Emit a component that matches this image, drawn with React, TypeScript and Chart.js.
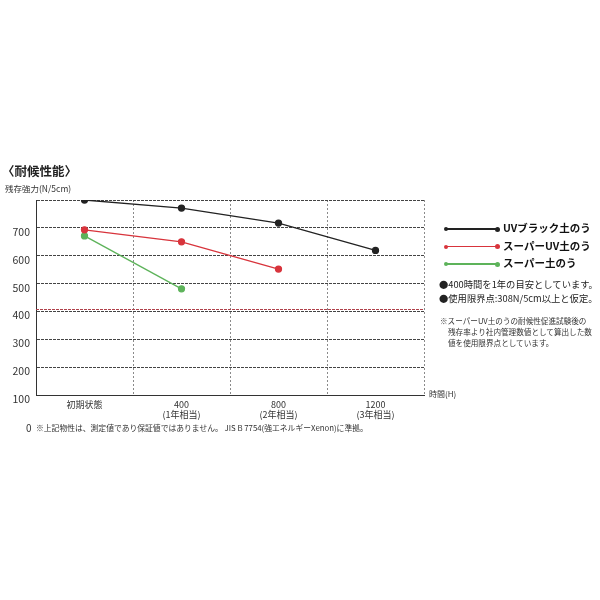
import React, { useEffect, useRef } from "react";
import { Chart, registerables } from "chart.js";

Chart.register(...registerables);

const categories: string[][] = [["初期状態"], ["400", "(1年相当)"], ["800", "(2年相当)"], ["1200", "(3年相当)"]];
const uvBlack: (number | null)[] = [800, 771, 717, 619];
const superUV: (number | null)[] = [693, 650, 552, null];
const superPlain: (number | null)[] = [671, 481, null, null];
const limitValue = 407;
const yMin = 100;
const yMax = 800;

const legendItems = [
  { label: "UVブラック土のう", color: "#222222" },
  { label: "スーパーUV土のう", color: "#d8343c" },
  { label: "スーパー土のう", color: "#5db35a" },
];

const FONT = "'Noto Sans CJK JP', 'Noto Sans', sans-serif";

const limitLine = {
  id: "limitLine",
  beforeDatasetsDraw(chart: any) {
    const { ctx, chartArea, scales } = chart;
    const y = Math.round(scales.y.getPixelForValue(limitValue)) + 0.5;
    ctx.save();
    ctx.strokeStyle = "#b0404a";
    ctx.lineWidth = 1;
    ctx.setLineDash([3, 1]);
    ctx.beginPath();
    ctx.moveTo(chartArea.left, y);
    ctx.lineTo(chartArea.right, y);
    ctx.stroke();
    ctx.restore();
  },
};

export default function App() {
  const ref = useRef<HTMLCanvasElement | null>(null);
  useEffect(() => {
    if (!ref.current) return;
    const ds = (label: string, data: (number | null)[], color: string) => ({
      label,
      data,
      borderColor: color,
      backgroundColor: color,
      pointBackgroundColor: color,
      pointBorderColor: color,
      pointRadius: 3,
      borderWidth: 1.3,
      tension: 0,
      spanGaps: false,
    });
    const chart = new Chart(ref.current, {
      type: "line",
      data: {
        labels: categories,
        datasets: [
          ds(legendItems[0].label, uvBlack, legendItems[0].color),
          ds(legendItems[1].label, superUV, legendItems[1].color),
          ds(legendItems[2].label, superPlain, legendItems[2].color),
        ],
      },
      options: {
        animation: false,
        responsive: false,
        maintainAspectRatio: false,
        layout: { padding: { left: 0, top: 200, right: 176, bottom: 0 } },
        plugins: { legend: { display: false }, tooltip: { enabled: false } },
        scales: {
          x: {
            type: "category",
            offset: true,
            grid: { offset: true, color: "#8a8a8a", drawTicks: false, lineWidth: 1 },
            border: { display: true, color: "#333", width: 1, dash: [2, 2] },
            ticks: {
              font: { family: FONT, size: 9, lineHeight: 1.15 },
              color: "#333",
              padding: 4,
              maxRotation: 0,
              autoSkip: false,
            },
            afterFit: (s: any) => {
              s.height = 205;
            },
          },
          y: {
            min: yMin,
            max: yMax,
            grid: { color: "#444", drawTicks: false, lineWidth: 1 },
            border: { display: true, color: "#333", width: 1, dash: [3, 1] },
            ticks: {
              stepSize: 100,
              font: { family: FONT, size: 10.5 },
              color: "#333",
              padding: 6,
              labelOffset: 4,
              callback: (v: any) => (v === 800 ? "" : String(v)),
            },
            afterFit: (s: any) => {
              s.width = 36;
            },
          },
        },
      },
      plugins: [limitLine],
    });
    return () => chart.destroy();
  }, []);

  const abs = (x: number, y: number, extra: React.CSSProperties = {}): React.CSSProperties => ({
    position: "absolute",
    left: x,
    top: y,
    whiteSpace: "nowrap",
    fontFamily: FONT,
    color: "#222",
    lineHeight: 1,
    ...extra,
  });

  return (
    <div style={{ position: "absolute", left: 0, top: 0, width: 600, height: 600, background: "#fff", overflow: "hidden" }}>
      <canvas ref={ref} width={600} height={600} style={{ position: "absolute", left: 0, top: 0, width: 600, height: 600 }} />
      <div style={abs(2, 165, { fontSize: 12.5, fontWeight: 700 })}>〈耐候性能〉</div>
      <div style={abs(5, 184, { fontSize: 8.5, color: "#333" })}>残存強力(N/5cm)</div>
      <div style={abs(429, 390, { fontSize: 8, color: "#333" })}>時間(H)</div>
      {legendItems.map((it, i) => {
        const y = 229 + i * 17.5;
        return (
          <React.Fragment key={it.label}>
            <div style={{ position: "absolute", left: 446, top: y - 0.75, width: 51, height: 1.5, background: it.color }} />
            <div style={{ position: "absolute", left: 444, top: y - 2, width: 4, height: 4, borderRadius: 2, background: it.color }} />
            <div style={{ position: "absolute", left: 495, top: y - 2.5, width: 5, height: 5, borderRadius: 2.5, background: it.color }} />
            <div style={abs(503, y - 6, { fontSize: 10.5, fontWeight: 700, color: "#111" })}>{it.label}</div>
          </React.Fragment>
        );
      })}
      <div style={abs(439, 280, { fontSize: 9.3, color: "#222" })}>●400時間を1年の目安としています。</div>
      <div style={abs(439, 294, { fontSize: 9.3, color: "#222" })}>●使用限界点:308N/5cm以上と仮定。</div>
      <div style={abs(440, 317, { fontSize: 7.6, color: "#333" })}>※スーパーUV土のうの耐候性促進試験後の</div>
      <div style={abs(448, 328, { fontSize: 7.6, color: "#333" })}>残存率より社内管理数値として算出した数</div>
      <div style={abs(448, 339, { fontSize: 7.6, color: "#333" })}>値を使用限界点としています。</div>
      <div style={abs(26, 423, { fontSize: 10, color: "#333" })}>0</div>
      <div style={abs(36, 424, { fontSize: 7.8, color: "#333" })}>
        ※上記物性は、測定値であり保証値ではありません。 JIS B 7754(強エネルギーXenon)に準拠。
      </div>
    </div>
  );
}
